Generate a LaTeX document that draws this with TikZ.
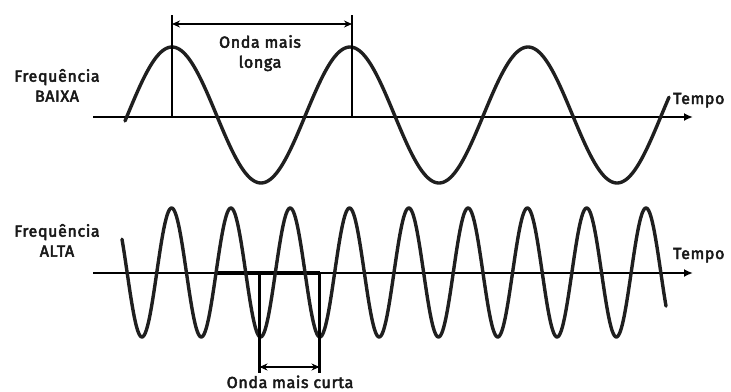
\documentclass[tikz,border=0pt]{standalone}
\usepackage{fontspec}
\setmainfont{Fira Sans}[FakeBold=3,LetterSpace=4]
\usetikzlibrary{arrows.meta}
\begin{document}
\begin{tikzpicture}[x=1pt,y=-1pt,
  wave/.style={line width=3.4pt,line cap=round,line join=round,color=black!88},
  axis/.style={line width=2.4pt,-{Latex[length=9pt,width=8pt]}},
  marker/.style={line width=2.2pt},
  dim/.style={line width=1.6pt,{Stealth[length=8pt,width=7pt]}-{Stealth[length=8pt,width=7pt]}},
  lbl/.style={font=\fontsize{16}{20}\selectfont,inner sep=0pt,anchor=base,align=center,text=black!90}]
\useasboundingbox (0,0) rectangle (731,391);
% ---- top: low frequency ----
\coordinate (a1s) at (93,117);
\coordinate (a1e) at (693,117);
\draw[axis] (a1s) -- (a1e);
\draw[wave] plot[domain=125:669,samples=300,smooth] (\x,{115-68*cos((\x-172)/89*180)});
\coordinate (v1t) at (172,15);
\coordinate (v1b) at (172,117);
\coordinate (v2t) at (352,15);
\coordinate (v2b) at (352,117);
\draw[marker] (v1t) -- (v1b);
\draw[marker] (v2t) -- (v2b);
\coordinate (d1a) at (172,24);
\coordinate (d1b) at (352,24);
\draw[dim] (d1a) -- (d1b);
\node[lbl] (longa) at (260,67.7) {Onda mais\\longa};
\node[lbl] (baixa) at (57,101.7) {Frequência\\BAIXA};
\node[lbl,anchor=base west] (tempo1) at (673,104) {Tempo};
% ---- bottom: high frequency ----
\coordinate (a2s) at (93,273);
\coordinate (a2e) at (693,273);
\draw[axis] (a2s) -- (a2e);
\coordinate (h1) at (217,273);
\coordinate (h2) at (320,273);
\draw[line width=3.4pt] (h1) -- (h2);
\draw[wave] plot[domain=122:666,samples=600,smooth] (\x,{272.5-64.5*cos((\x-171.6)/29.65*180)});
\coordinate (w1t) at (259.5,273);
\coordinate (w1b) at (259.5,373);
\coordinate (w2t) at (319.5,273);
\coordinate (w2b) at (319.5,373);
\draw[line width=3pt] (w1t) -- (w1b);
\draw[line width=3pt] (w2t) -- (w2b);
\coordinate (d2a) at (259.5,367);
\coordinate (d2b) at (319.5,367);
\draw[dim] (d2a) -- (d2b);
\node[lbl] (curta) at (290,388) {Onda mais curta};
\node[lbl] (alta) at (57,256.7) {Frequência\\ALTA};
\node[lbl,anchor=base west] (tempo2) at (673,259) {Tempo};
\end{tikzpicture}
\end{document}
